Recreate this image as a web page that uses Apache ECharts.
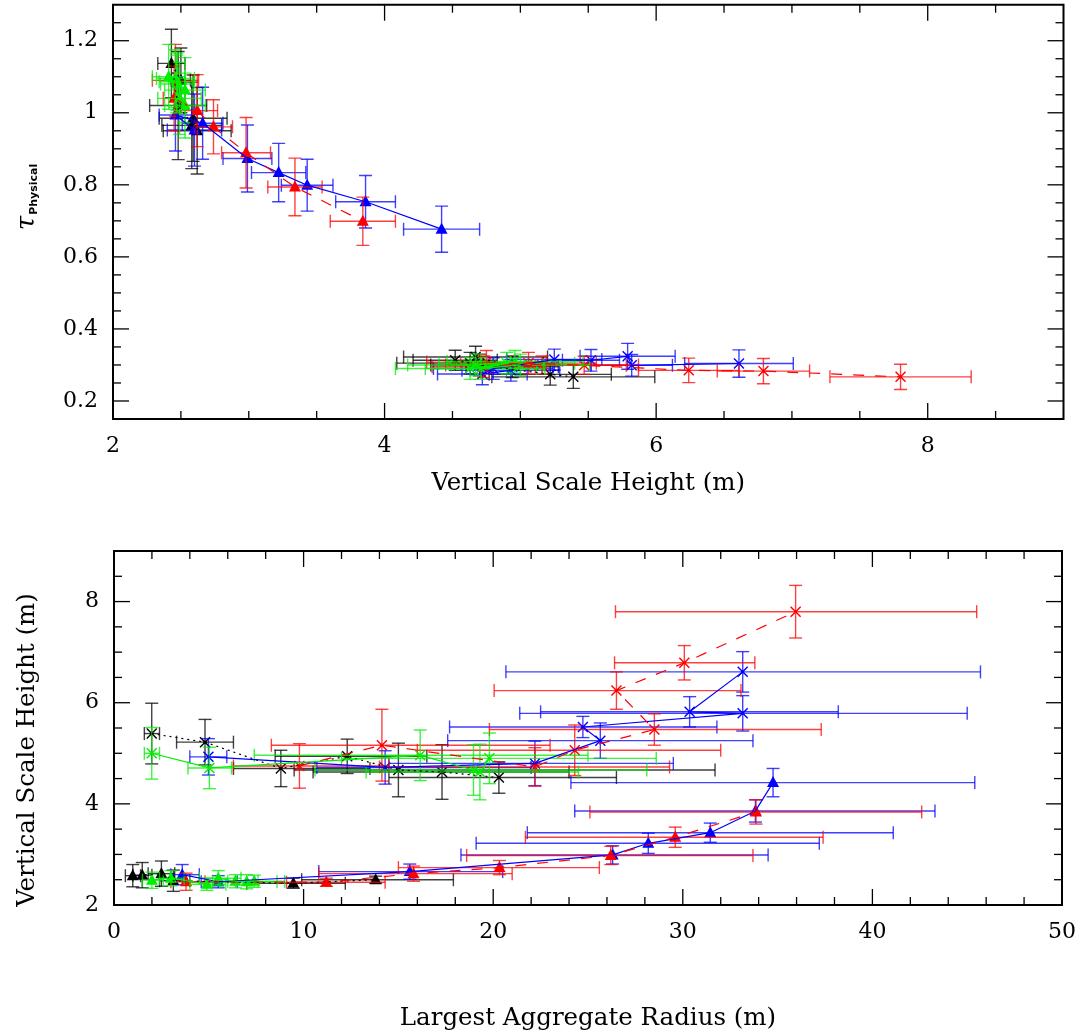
<!DOCTYPE html>
<html>
<head>
<meta charset="utf-8">
<script src="https://cdn.jsdelivr.net/npm/echarts@6/dist/echarts.min.js"></script>
<style>
html,body{margin:0;padding:0;background:#fff}
#c{width:1085px;height:1035px}
</style>
</head>
<body>
<div id="c"></div>
<script>
// Each row: [R, R_low, R_high, H, H_err, tau, tau_err]
// R = largest aggregate radius (m), H = vertical scale height (m), tau = tau_Physical
const blackTriangles = [
  [0.99, 0.6, 1.4, 2.58, 0.22, 0.965, 0.12],
  [1.49, 1.0, 2.0, 2.59, 0.25, 0.985, 0.12],
  [2.5, 1.8, 3.2, 2.62, 0.25, 0.95, 0.12],
  [3.13, 2.4, 4.0, 2.48, 0.21, 1.02, 0.15],
  [9.46, 7.0, 12.2, 2.43, 0.10, 1.137, 0.095],
  [13.8, 9.9, 17.9, 2.50, 0.07, 1.09, 0.09]
];
const blackCrosses = [
  [1.99, 1.6, 2.4, 5.39, 0.60, 0.267, 0.032],
  [4.8, 3.3, 6.3, 5.22, 0.45, 0.274, 0.030],
  [8.8, 6.3, 13.5, 4.70, 0.36, 0.300, 0.030],
  [12.3, 8.5, 16.5, 4.94, 0.34, 0.295, 0.030],
  [15.0, 9.5, 31.7, 4.67, 0.53, 0.322, 0.030],
  [17.3, 10.5, 24.0, 4.63, 0.54, 0.305, 0.030],
  [20.3, 14.5, 26.5, 4.52, 0.31, 0.313, 0.028]
];
const blueTriangles = [
  [3.6, 3.0, 4.5, 2.60, 0.20, 0.952, 0.10],
  [5.5, 4.6, 6.5, 2.46, 0.12, 0.994, 0.10],
  [15.6, 10.8, 20.5, 2.66, 0.15, 0.971, 0.10],
  [26.3, 18.3, 34.5, 2.99, 0.18, 0.873, 0.093],
  [28.18, 19.1, 37.2, 3.22, 0.20, 0.834, 0.081],
  [31.45, 21.8, 41.1, 3.43, 0.19, 0.799, 0.072],
  [33.83, 24.3, 43.3, 3.86, 0.22, 0.753, 0.073],
  [34.76, 24.1, 45.4, 4.42, 0.28, 0.677, 0.064]
];
const blueCrosses = [
  [4.98, 4.0, 5.95, 4.93, 0.36, 0.285, 0.030],
  [14.3, 10.7, 22.0, 4.72, 0.33, 0.275, 0.030],
  [22.2, 14.5, 29.5, 4.80, 0.44, 0.290, 0.030],
  [25.65, 17.6, 33.7, 5.25, 0.35, 0.315, 0.029],
  [24.73, 17.7, 31.8, 5.52, 0.21, 0.313, 0.030],
  [33.16, 21.4, 45.0, 5.79, 0.35, 0.324, 0.036],
  [30.36, 22.5, 38.2, 5.82, 0.30, 0.299, 0.030],
  [33.16, 20.67, 45.7, 6.61, 0.40, 0.304, 0.038]
];
const redTriangles = [
  [3.8, 3.0, 4.8, 2.46, 0.17, 1.09, 0.10],
  [11.2, 9.1, 14.3, 2.45, 0.08, 1.04, 0.09],
  [15.8, 10.8, 21.0, 2.62, 0.15, 1.006, 0.10],
  [20.33, 15.0, 25.6, 2.74, 0.14, 0.961, 0.075],
  [26.2, 18.6, 33.7, 2.98, 0.18, 0.889, 0.098],
  [29.6, 21.7, 37.4, 3.34, 0.20, 0.794, 0.080],
  [33.86, 25.1, 42.6, 3.84, 0.24, 0.699, 0.067]
];
const redCrosses = [
  [9.78, 6.3, 14.5, 4.75, 0.44, 0.308, 0.032],
  [14.13, 8.3, 23.0, 5.16, 0.71, 0.300, 0.025],
  [22.2, 14.0, 29.3, 4.73, 0.38, 0.295, 0.030],
  [24.3, 16.0, 32.0, 5.06, 0.50, 0.305, 0.030],
  [28.5, 19.8, 37.3, 5.47, 0.31, 0.299, 0.025],
  [26.5, 20.05, 33.07, 6.24, 0.37, 0.285, 0.034],
  [30.08, 26.4, 33.8, 6.79, 0.34, 0.283, 0.035],
  [35.95, 26.45, 45.5, 7.80, 0.52, 0.267, 0.035]
];
const greenTriangles = [
  [2.0, 1.5, 2.6, 2.49, 0.16, 1.04, 0.10],
  [3.0, 2.4, 3.7, 2.53, 0.15, 1.02, 0.09],
  [4.9, 4.0, 5.9, 2.41, 0.12, 1.10, 0.09],
  [5.5, 4.5, 6.7, 2.53, 0.15, 1.063, 0.09],
  [6.4, 5.2, 7.6, 2.47, 0.13, 1.086, 0.08],
  [7.0, 5.6, 8.6, 2.46, 0.14, 1.095, 0.08],
  [7.4, 6.0, 9.0, 2.47, 0.12, 1.08, 0.08]
];
const greenCrosses = [
  [1.99, 1.6, 2.4, 5.00, 0.51, 0.300, 0.030],
  [5.03, 3.9, 6.2, 4.71, 0.41, 0.290, 0.030],
  [16.15, 7.4, 25.0, 4.96, 0.50, 0.310, 0.030],
  [18.96, 10.6, 28.1, 4.67, 0.50, 0.300, 0.030],
  [19.3, 13.3, 24.5, 4.63, 0.55, 0.290, 0.030],
  [19.8, 12.0, 28.6, 4.90, 0.50, 0.305, 0.030]
];

// Tick labels
const topXLabels = [2, 4, 6, 8];
const topYLabels = [0.2, 0.4, 0.6, 0.8, 1, 1.2];
const bottomXLabels = [0, 10, 20, 30, 40, 50];
const bottomYLabels = [2, 4, 6, 8];
// Major tick positions
const topXMajor = [4, 6, 8];
const topYMajor = [0.2, 0.4, 0.6, 0.8, 1.0, 1.2];
const bottomXMajor = [10, 20, 30, 40];
const bottomYMajor = [4, 6, 8];

function minorTicks(a, b, step, majors) {
  const out = [];
  const n = Math.round((b - a) / step);
  for (let i = 0; i <= n; i++) {
    const v = +(a + i * step).toFixed(6);
    if (!majors.some(m => Math.abs(m - v) < 1e-6)) out.push(v);
  }
  return out;
}
const topXMinor = minorTicks(2.5, 8.5, 0.5, topXMajor);
const topYMinor = minorTicks(0.15, 1.25, 0.05, topYMajor);
const bottomXMinor = minorTicks(2, 48, 2, bottomXMajor);
const bottomYMinor = minorTicks(2.5, 8.5, 0.5, bottomYMajor);

const FONT = 'DejaVu Serif';

function fmtNum(v) { return String(Math.round(v * 100) / 100); }
function labelFmt(list) {
  return function (v) { return list.some(a => Math.abs(a - v) < 1e-6) ? fmtNum(v) : ''; };
}

function tickSeries(gi, xr, yr, xMaj, xMin, yMaj, yMin) {
  return {
    type: 'custom', xAxisIndex: gi, yAxisIndex: gi, silent: true, clip: false, z: 10,
    data: [[xr[0], yr[0]]],
    renderItem: function (params, api) {
      const bl = api.coord([xr[0], yr[0]]);
      const tr = api.coord([xr[1], yr[1]]);
      const ch = [];
      const st = { stroke: '#000', lineWidth: 1.3 };
      const L = (x1, y1, x2, y2) => ch.push({ type: 'line', shape: { x1: x1, y1: y1, x2: x2, y2: y2 }, style: st });
      const doX = (vals, len) => vals.forEach(v => {
        const x = api.coord([v, yr[0]])[0];
        L(x, bl[1], x, bl[1] - len); L(x, tr[1], x, tr[1] + len);
      });
      const doY = (vals, len) => vals.forEach(v => {
        const y = api.coord([xr[0], v])[1];
        L(bl[0], y, bl[0] + len, y); L(tr[0], y, tr[0] - len, y);
      });
      doX(xMaj, 16); doX(xMin, 8); doY(yMaj, 16); doY(yMin, 8);
      return { type: 'group', children: ch };
    }
  };
}

function errRender(color, marker) {
  return function (params, api) {
    const x = api.value(0), y = api.value(1);
    const p = api.coord([x, y]);
    const xl = api.coord([api.value(2), y])[0];
    const xh = api.coord([api.value(3), y])[0];
    const yl = api.coord([x, api.value(4)])[1];
    const yh = api.coord([x, api.value(5)])[1];
    const cap = 6.5;
    const ls = { stroke: color, lineWidth: 1.4, opacity: 0.75 };
    const ch = [];
    const L = (x1, y1, x2, y2, s) => ch.push({ type: 'line', shape: { x1: x1, y1: y1, x2: x2, y2: y2 }, style: s || ls });
    L(xl, p[1], xh, p[1]);
    L(xl, p[1] - cap, xl, p[1] + cap);
    L(xh, p[1] - cap, xh, p[1] + cap);
    L(p[0], yl, p[0], yh);
    L(p[0] - cap, yl, p[0] + cap, yl);
    L(p[0] - cap, yh, p[0] + cap, yh);
    if (marker === 'tri') {
      ch.push({ type: 'polygon', shape: { points: [[p[0], p[1] - 6.5], [p[0] - 6, p[1] + 4.5], [p[0] + 6, p[1] + 4.5]] }, style: { fill: color } });
    } else {
      const ms = { stroke: color, lineWidth: 1.4 };
      const s = 5;
      L(p[0] - s, p[1] - s, p[0] + s, p[1] + s, ms);
      L(p[0] - s, p[1] + s, p[0] + s, p[1] - s, ms);
      ch.push({ type: 'circle', shape: { cx: p[0], cy: p[1], r: 1.6 }, style: { fill: color } });
    }
    return { type: 'group', children: ch };
  };
}

const groups = [
  { rows: blackTriangles, color: '#000000', marker: 'tri', dash: [2, 4] },
  { rows: blackCrosses, color: '#000000', marker: 'x', dash: [2, 4] },
  { rows: blueTriangles, color: '#0000ff', marker: 'tri', dash: 'solid' },
  { rows: blueCrosses, color: '#0000ff', marker: 'x', dash: 'solid' },
  { rows: redTriangles, color: '#ff0000', marker: 'tri', dash: [11, 11] },
  { rows: redCrosses, color: '#ff0000', marker: 'x', dash: [11, 11] },
  { rows: greenTriangles, color: '#00ee00', marker: 'tri', dash: 'solid' },
  { rows: greenCrosses, color: '#00ee00', marker: 'x', dash: 'solid' }
];

const series = [];
groups.forEach(g => {
  // top panel: H vs tau ; bottom panel: R vs H
  const topData = g.rows.map(r => [r[3], r[5], r[3] - r[4], r[3] + r[4], r[5] - r[6], r[5] + r[6]]);
  const botData = g.rows.map(r => [r[0], r[3], r[1], r[2], r[3] - r[4], r[3] + r[4]]);
  series.push({
    type: 'line', xAxisIndex: 0, yAxisIndex: 0, data: topData.map(d => [d[0], d[1]]),
    showSymbol: false, symbol: 'none', silent: true,
    lineStyle: { color: g.color, width: 1.2, type: g.dash }
  });
  series.push({
    type: 'custom', xAxisIndex: 0, yAxisIndex: 0, data: topData, clip: true, silent: true,
    encode: { x: 0, y: 1 }, renderItem: errRender(g.color, g.marker)
  });
  series.push({
    type: 'line', xAxisIndex: 1, yAxisIndex: 1, data: botData.map(d => [d[0], d[1]]),
    showSymbol: false, symbol: 'none', silent: true,
    lineStyle: { color: g.color, width: 1.2, type: g.dash }
  });
  series.push({
    type: 'custom', xAxisIndex: 1, yAxisIndex: 1, data: botData, clip: true, silent: true,
    encode: { x: 0, y: 1 }, renderItem: errRender(g.color, g.marker)
  });
});
series.push(tickSeries(0, [2, 9], [0.15, 1.3], topXMajor, topXMinor, topYMajor, topYMinor));
series.push(tickSeries(1, [0, 50], [2, 9], bottomXMajor, bottomXMinor, bottomYMajor, bottomYMinor));

const labelStyle = { fontFamily: FONT, fontSize: 22, color: '#000' };
const nameStyle = { fontFamily: FONT, fontSize: 24.5, color: '#000' };

const option = {
  animation: false,
  backgroundColor: '#ffffff',
  grid: [
    { left: 113, right: 21.5, top: 4.7, height: 414.3, show: true, borderColor: '#000', borderWidth: 2, backgroundColor: 'transparent' },
    { left: 114, right: 23, top: 551, height: 354, show: true, borderColor: '#000', borderWidth: 2, backgroundColor: 'transparent' }
  ],
  xAxis: [
    {
      gridIndex: 0, type: 'value', min: 2, max: 9, interval: 0.5,
      axisLine: { show: false }, axisTick: { show: false }, splitLine: { show: false },
      axisLabel: Object.assign({ formatter: labelFmt(topXLabels), margin: 16 }, labelStyle),
      name: 'Vertical Scale Height (m)', nameLocation: 'middle', nameGap: 52, nameTextStyle: nameStyle
    },
    {
      gridIndex: 1, type: 'value', min: 0, max: 50, interval: 2,
      axisLine: { show: false }, axisTick: { show: false }, splitLine: { show: false },
      axisLabel: Object.assign({ formatter: labelFmt(bottomXLabels), margin: 16 }, labelStyle),
      name: 'Largest Aggregate Radius (m)', nameLocation: 'middle', nameGap: 101, nameTextStyle: nameStyle
    }
  ],
  yAxis: [
    {
      gridIndex: 0, type: 'value', min: 0.15, max: 1.3, interval: 0.05,
      axisLine: { show: false }, axisTick: { show: false }, splitLine: { show: false },
      axisLabel: Object.assign({ formatter: labelFmt(topYLabels), margin: 15 }, labelStyle)
    },
    {
      gridIndex: 1, type: 'value', min: 2, max: 9, interval: 0.5,
      axisLine: { show: false }, axisTick: { show: false }, splitLine: { show: false },
      axisLabel: Object.assign({ formatter: labelFmt(bottomYLabels), margin: 15 }, labelStyle)
    }
  ],
  graphic: [
    {
      type: 'text', x: 27, y: 197, rotation: Math.PI / 2,
      style: {
        text: '{t|τ}{s|Physical}',
        align: 'center', verticalAlign: 'middle', fill: '#000',
        rich: {
          t: { fontFamily: FONT, fontSize: 26, fontStyle: 'italic', fill: '#000' },
          s: { fontFamily: 'DejaVu Sans', fontSize: 11, fontWeight: 'bold', fill: '#000', verticalAlign: 'bottom', padding: [10, 0, 0, 1] }
        }
      }
    },
    {
      type: 'text', x: 28, y: 750, rotation: Math.PI / 2,
      style: {
        text: 'Vertical Scale Height (m)', align: 'center', verticalAlign: 'middle',
        fill: '#000', fontFamily: FONT, fontSize: 24.5
      }
    }
  ],
  series: series
};

const chart = echarts.init(document.getElementById('c'), null, { renderer: 'canvas' });
chart.setOption(option);
</script>
</body>
</html>
